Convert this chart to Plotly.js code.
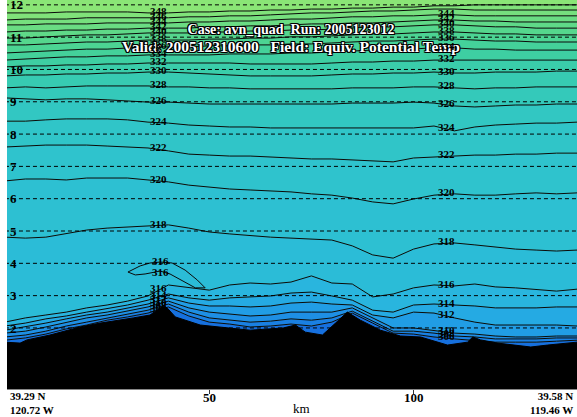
<!DOCTYPE html>
<html>
<head>
<meta charset="utf-8">
<script src="https://cdn.plot.ly/plotly-3.0.1.min.js"></script>
<style>html,body{margin:0;padding:0;background:#fff;}#chart{width:577px;height:417px;}</style>
</head>
<body>
<div id="chart"></div>
<script>
// ---- data ----
const distKm = [0,5,10,15,20,25,30,35,40,45,50,55,60,65,70,75,80,85,90,95,100,105,110,115,120,125,130,135,140];

const theta306 = [1.62,1.69,1.81,1.97,2.09,2.24,2.34,2.46,2.65,2.37,2.18,2.12,2.03,2.06,2.12,2.06,2.18,2.46,2.15,1.84,1.81,1.72,1.66,1.62,1.56,1.56,1.56,1.59,1.62];
const theta308 = [1.72,1.78,1.90,2.06,2.18,2.31,2.43,2.55,2.74,2.49,2.31,2.24,2.18,2.21,2.28,2.24,2.31,2.52,2.21,1.90,1.90,1.84,1.75,1.72,1.66,1.66,1.66,1.69,1.69];
const theta310 = [1.84,1.90,2.03,2.18,2.31,2.40,2.52,2.65,2.83,2.62,2.49,2.43,2.37,2.40,2.49,2.49,2.49,2.62,2.31,2.00,2.00,1.93,1.84,1.81,1.75,1.72,1.72,1.75,1.75];
const theta312 = [1.93,2.03,2.15,2.28,2.40,2.49,2.62,2.74,2.93,2.77,2.68,2.68,2.65,2.68,2.77,2.80,2.74,2.71,2.40,2.31,2.49,2.46,2.31,2.18,2.09,2.09,2.09,2.09,2.06];
const theta314 = [2.06,2.15,2.28,2.37,2.49,2.59,2.71,2.86,3.05,2.93,2.86,2.93,2.96,2.99,3.08,3.11,2.99,2.86,2.55,2.49,2.71,2.74,2.71,2.68,2.62,2.62,2.62,2.65,2.65];
const theta316 = [2.18,2.31,2.40,2.49,2.62,2.71,2.83,2.99,3.33,3.24,3.17,3.33,3.39,3.36,3.42,3.61,3.39,3.36,2.96,3.05,3.24,3.33,3.30,3.36,3.27,3.24,3.20,3.14,3.20];
const theta318 = [4.81,4.78,4.81,4.91,5.03,5.09,5.12,5.15,5.19,5.09,4.97,4.91,4.85,4.81,4.78,4.75,4.72,4.54,4.26,4.16,4.44,4.60,4.63,4.57,4.51,4.44,4.41,4.38,4.41];
const theta320 = [6.55,6.61,6.61,6.58,6.64,6.64,6.64,6.58,6.52,6.42,6.36,6.30,6.27,6.24,6.21,6.15,6.11,6.02,5.90,5.84,5.99,6.11,6.15,6.11,6.11,6.15,6.18,6.15,6.18];
const theta322 = [7.60,7.63,7.66,7.66,7.66,7.63,7.60,7.57,7.48,7.38,7.35,7.32,7.32,7.29,7.26,7.23,7.23,7.20,7.17,7.14,7.26,7.29,7.32,7.35,7.35,7.38,7.38,7.41,7.41];
const theta324 = [8.40,8.40,8.44,8.47,8.47,8.47,8.44,8.37,8.34,8.28,8.25,8.22,8.22,8.19,8.19,8.19,8.19,8.19,8.19,8.19,8.19,8.25,8.10,8.22,8.28,8.31,8.34,8.34,8.37];
const theta326 = [9.12,9.09,9.06,9.09,9.09,9.06,9.02,8.99,8.99,8.96,8.93,8.93,8.93,8.93,8.93,8.93,8.93,8.96,8.96,8.96,8.99,8.96,8.87,8.84,8.87,8.90,8.90,8.93,8.93];
const theta328 = [9.43,9.46,9.43,9.46,9.49,9.49,9.49,9.49,9.46,9.46,9.43,9.43,9.40,9.40,9.40,9.40,9.40,9.43,9.43,9.43,9.46,9.46,9.43,9.40,9.43,9.43,9.46,9.46,9.46];
const theta330 = [9.80,9.83,9.83,9.86,9.86,9.89,9.89,9.92,9.92,9.89,9.86,9.83,9.80,9.80,9.80,9.80,9.83,9.86,9.86,9.89,9.89,9.92,9.89,9.89,9.92,9.92,9.92,9.95,9.95];
const theta332 = [10.08,10.11,10.11,10.14,10.14,10.17,10.17,10.20,10.20,10.20,10.20,10.20,10.17,10.17,10.17,10.17,10.20,10.23,10.23,10.26,10.26,10.29,10.29,10.29,10.29,10.29,10.29,10.29,10.29];
const theta334 = [10.29,10.33,10.36,10.39,10.39,10.42,10.42,10.45,10.45,10.45,10.45,10.48,10.48,10.48,10.51,10.51,10.54,10.57,10.60,10.60,10.63,10.67,10.67,10.63,10.63,10.60,10.60,10.60,10.60];
const theta336 = [10.51,10.54,10.57,10.60,10.63,10.63,10.67,10.70,10.70,10.70,10.73,10.73,10.76,10.76,10.79,10.79,10.82,10.85,10.88,10.88,10.91,10.94,10.94,10.91,10.88,10.88,10.85,10.85,10.85];
const theta338 = [10.76,10.76,10.79,10.82,10.85,10.85,10.88,10.91,10.91,10.91,10.94,10.94,10.97,10.97,11.01,11.01,11.04,11.07,11.10,11.10,11.13,11.16,11.16,11.13,11.10,11.10,11.07,11.07,11.07];
const theta340 = [10.97,10.97,11.01,11.04,11.07,11.07,11.10,11.13,11.13,11.13,11.16,11.16,11.19,11.19,11.22,11.22,11.25,11.28,11.32,11.32,11.35,11.38,11.38,11.35,11.32,11.32,11.28,11.28,11.28];
const theta342 = [11.16,11.19,11.19,11.22,11.22,11.25,11.25,11.28,11.28,11.28,11.32,11.32,11.35,11.35,11.38,11.41,11.41,11.44,11.44,11.47,11.50,11.53,11.53,11.50,11.50,11.47,11.47,11.47,11.47];
const theta344 = [11.38,11.38,11.41,11.41,11.41,11.44,11.44,11.44,11.44,11.47,11.47,11.50,11.50,11.53,11.56,11.56,11.60,11.63,11.63,11.66,11.66,11.69,11.69,11.66,11.66,11.66,11.66,11.66,11.66];
const theta346 = [11.53,11.56,11.56,11.56,11.60,11.60,11.60,11.60,11.60,11.63,11.63,11.66,11.66,11.69,11.72,11.75,11.75,11.78,11.81,11.81,11.84,11.87,11.87,11.84,11.84,11.84,11.84,11.84,11.84];
const theta348 = [11.75,11.75,11.75,11.78,11.78,11.78,11.78,11.75,11.75,11.78,11.78,11.81,11.81,11.84,11.84,11.87,11.87,11.90,11.90,11.93,11.93,11.97,11.97,12.00,12.00,12.00,12.00,12.00,12.00];

const levels = [306,308,310,312,314,316,318,320,322,324,326,328,330,332,334,336,338,340,342,344,346,348];
const levelHeights = [theta306,theta308,theta310,theta312,theta314,theta316,theta318,theta320,theta322,theta324,theta326,theta328,theta330,theta332,theta334,theta336,theta338,theta340,theta342,theta344,theta346,theta348];

// closed 316 tongue near the ridge
const tongueKm = [30.1,33.1,35.5,38.0,40.9,44.1,47.1,49.0,46.6,43.6,40.4,38.0,34.3,31.9,30.1];
const tongueH  = [3.73,3.92,4.01,4.04,4.01,3.79,3.48,3.24,3.24,3.45,3.67,3.76,3.67,3.64,3.73];

// terrain profile
const terrainKm = [0,3.7,5.4,11.0,18.4,23.3,31.4,35.5,38.0,38.7,39.7,41.7,47.8,55.1,60.0,68.1,71.1,73.5,77.7,80.9,83.8,87.0,91.9,96.8,101.7,108.3,113.2,114.5,116.4,120.6,124.5,128.7,132.8,137.7,140];
const terrainH  = [1.56,1.53,1.63,1.78,2.03,2.15,2.31,2.40,2.62,2.68,2.62,2.34,2.09,2.00,1.93,2.00,2.09,1.87,1.78,2.15,2.49,2.24,1.93,1.75,1.72,1.47,1.56,1.72,1.63,1.53,1.47,1.41,1.47,1.53,1.56];

const heightTicks = [1,2,3,4,5,6,7,8,9,10,11,12];
const distTicks = [50,100];
const leftLabelLevels = [348,346,344,342,340,338,336,334,332,330,328,326,324,322,320,318,316,314,312,310,308,306];
const rightLabelLevels = [344,342,340,338,336,334,332,330,328,326,324,322,320,318,316,314,312,310,308,306];
const labelColumnsKm = [37.5, 108];

// ---- styles ----
const belowColor = 'rgb(22,112,222)';
const bandColors = [ // band between level[i-1] and level[i]
  null,
  'rgb(26,128,226)','rgb(30,143,228)','rgb(33,157,229)','rgb(37,170,227)','rgb(41,181,222)',
  'rgb(43,188,215)','rgb(45,192,210)','rgb(47,195,205)','rgb(48,197,200)','rgb(50,199,194)',
  'rgb(52,201,186)','rgb(55,203,178)','rgb(58,205,170)','rgb(62,207,162)','rgb(68,209,154)',
  'rgb(76,212,147)','rgb(85,214,141)','rgb(95,217,136)','rgb(106,220,131)','rgb(118,223,126)',
  'rgb(128,226,122)'
];
const topColor = 'rgb(138,229,118)';
const serif = 'Liberation Serif, Times New Roman, serif';

function interp(xs, ys, x) {
  for (let i = 0; i < xs.length - 1; i++) {
    if (x >= xs[i] && x <= xs[i+1]) {
      const t = (x - xs[i]) / (xs[i+1] - xs[i]);
      return ys[i] + t * (ys[i+1] - ys[i]);
    }
  }
  return ys[ys.length-1];
}

const traces = [];
levels.forEach((lv, i) => {
  traces.push({
    type: 'scatter', mode: 'lines', x: distKm, y: levelHeights[i],
    line: {color: '#0a0a0a', width: 1},
    fill: i === 0 ? 'tozeroy' : 'tonexty',
    fillcolor: i === 0 ? belowColor : bandColors[i],
    hoverinfo: 'skip', showlegend: false
  });
});
traces.push({type:'scatter', mode:'lines', x: tongueKm, y: tongueH, line:{color:'#0a0a0a', width:1}, hoverinfo:'skip', showlegend:false});
heightTicks.forEach(h => {
  traces.push({type:'scatter', mode:'lines', x:[distKm[0], distKm[distKm.length-1]], y:[h,h],
    line:{color:'#000', width:1, dash:'4px,3px'}, hoverinfo:'skip', showlegend:false});
});
traces.push({type:'scatter', mode:'lines', x: terrainKm, y: terrainH, fill:'tozeroy',
  fillcolor:'#000', line:{color:'#000', width:1}, hoverinfo:'skip', showlegend:false});

const annotations = [];
const labFont = {family: serif, size: 11, color: '#000', weight: 'bold'};
leftLabelLevels.forEach(lv => {
  const i = levels.indexOf(lv);
  annotations.push({x: labelColumnsKm[0], y: interp(distKm, levelHeights[i], labelColumnsKm[0]), text: String(lv),
    showarrow:false, font: labFont, yshift: 2});
});
rightLabelLevels.forEach(lv => {
  const i = levels.indexOf(lv);
  annotations.push({x: labelColumnsKm[1], y: interp(distKm, levelHeights[i], labelColumnsKm[1]), text: String(lv),
    showarrow:false, font: labFont, yshift: 2});
});
// tongue labels (top and bottom of the 316 tongue at the left label column)
annotations.push({x: tongueKm[3], y: tongueH[3], text:'316', showarrow:false, font: labFont, yshift: 1});
annotations.push({x: tongueKm[11], y: tongueH[11], text:'316', showarrow:false, font: labFont, yshift: -1});
// top height label (partly cut by the frame in the reference)
annotations.push({xref:'paper', x:0, y:heightTicks[heightTicks.length-1], xanchor:'left', xshift:1, yshift:0,
  text:String(heightTicks[heightTicks.length-1]), showarrow:false, font:{family: serif, size: 13, color:'#000', weight:'bold'}});
// x tick labels placed just under the axis
const tickFont = {family: serif, size: 13, color: '#000', weight: 'bold'};
distTicks.forEach(d => {
  annotations.push({x: d, yref:'paper', y:0, yanchor:'top', yshift:1, text:String(d), showarrow:false, font: tickFont});
});
// corner location labels and axis title
const cornerFont = {family: serif, size: 11, color: '#000', weight: 'bold'};
annotations.push({xref:'paper', yref:'paper', x:0, y:0, xanchor:'left', yanchor:'top', xshift:1, yshift:1,
  align:'left', text:'39.29 N<br>120.72 W', showarrow:false, font: cornerFont});
annotations.push({xref:'paper', yref:'paper', x:1, y:0, xanchor:'right', yanchor:'top', xshift:-2, yshift:1,
  align:'right', text:'39.58 N<br>119.46 W', showarrow:false, font: cornerFont});
annotations.push({xref:'paper', yref:'paper', x:(301-7)/570, y:0, xanchor:'center', yanchor:'top', yshift:-10,
  text:'km', showarrow:false, font:{family: serif, size: 13, color:'#000'}});

const layout = {
  width: 577, height: 417,
  margin: {l: 7, r: 0, t: 0, b: 28, pad: 0},
  paper_bgcolor: '#fff', plot_bgcolor: topColor,
  showlegend: false,
  title: {
    text: 'Case: avn_quad\u00A0\u00A0Run: 2005123012<br><span style="font-size:15.5px">Valid: 200512310600\u00A0\u00A0\u00A0Field: Equiv. Potential Temp</span>',
    x: 291/577, xanchor: 'center', y: 1 - 34/417, yanchor: 'middle', yref: 'container',
    font: {family: serif, size: 14, color: '#fff', weight: 'bold',
      shadow: '1px 1px 0 #000, -1px -1px 0 #000, 1px -1px 0 #000, -1px 1px 0 #000, 1px 0 0 #000, -1px 0 0 #000, 0 1px 0 #000, 0 -1px 0 #000'}
  },
  xaxis: {
    range: [0.5, 140], showgrid: false, zeroline: false,
    showline: true, linecolor: '#888', linewidth: 1, mirror: false,
    tickmode: 'array', tickvals: distTicks, showticklabels: false,
    ticks: 'outside', ticklen: 4, tickcolor: '#333', tickwidth: 1
  },
  yaxis: {
    range: [0.11, 12.15], showgrid: false, zeroline: false, showline: false,
    tickmode: 'array', tickvals: heightTicks.slice(0, -1), ticktext: heightTicks.slice(0, -1).map(String),
    ticks: '', ticklabelposition: 'inside', layer: 'above traces',
    tickfont: {family: serif, size: 13, color: '#000', weight: 'bold'}
  },
  annotations: annotations
};

Plotly.newPlot('chart', traces, layout, {staticPlot: true, displayModeBar: false});
</script>
</body>
</html>
